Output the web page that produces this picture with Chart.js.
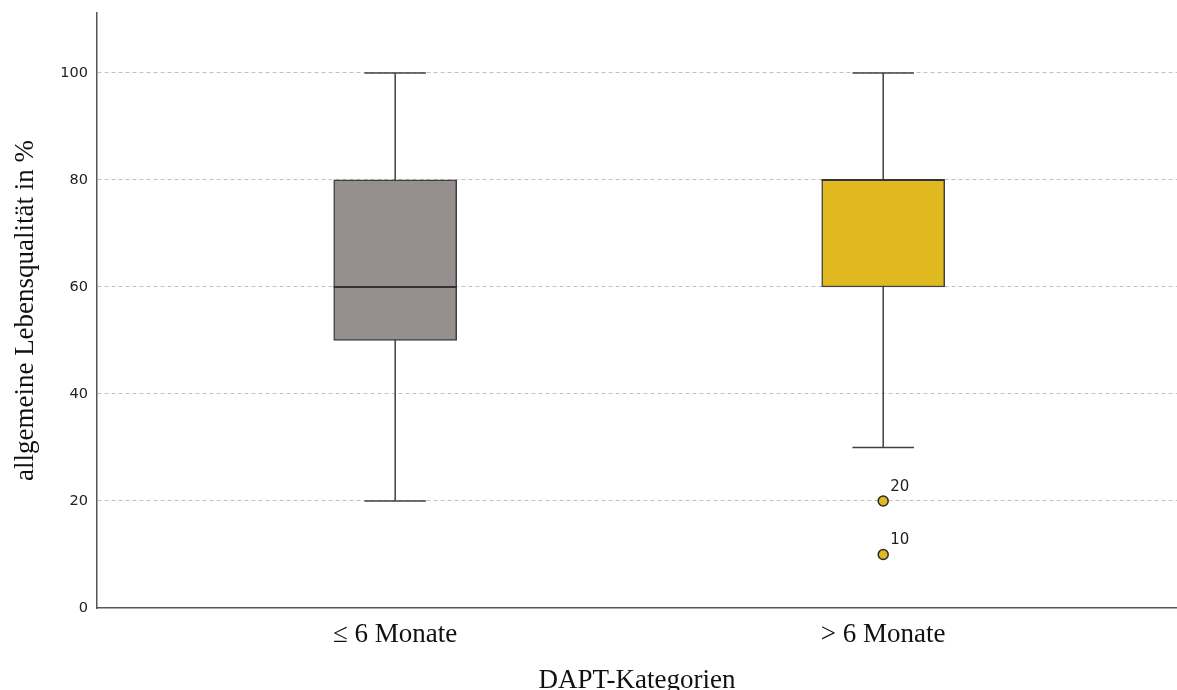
<!DOCTYPE html>
<html>
<head>
<meta charset="utf-8">
<script src="https://cdn.jsdelivr.net/npm/chart.js@4/dist/chart.umd.min.js"></script>
<style>
  html, body { margin: 0; padding: 0; background: #fff; overflow: hidden; }
  #wrap { width: 1177px; height: 690px; position: relative; }
</style>
</head>
<body>
<div id="wrap"><canvas id="boxChart"></canvas></div>
<script>
        const categories = ['\u2264 6 Monate', '> 6 Monate'];
        const whiskerLow = [20, 30];
        const q1 = [50, 60];
        const median = [60, 80];
        const q3 = [80, 80];
        const whiskerHigh = [100, 100];
        const boxColors = ['#958f8d', '#e0b920'];

        // Ausreißer (Gruppe, Wert, Fallnummer)
        const outlierGroup = [2, 2];
        const outlierValues = [20, 10];
        const outlierCase = ['20', '10'];

        const yTicks = [0, 20, 40, 60, 80, 100];

        const lineColor = '#404040';
        const serif = '"Liberation Serif", "Times New Roman", serif';

        const boxParts = {
            id: 'boxParts',
            beforeDatasetsDraw(chart) {
                const ctx = chart.ctx;
                const xs = chart.scales.x;
                const ys = chart.scales.y;
                const half = chart.getDatasetMeta(0).data[0].width / 2;
                ctx.save();
                ctx.strokeStyle = lineColor;
                ctx.lineWidth = 1.5;
                categories.forEach((c, i) => {
                    const cx = xs.getPixelForValue(i + 1);
                    ctx.beginPath();
                    ctx.moveTo(cx, ys.getPixelForValue(whiskerHigh[i]));
                    ctx.lineTo(cx, ys.getPixelForValue(whiskerLow[i]));
                    ctx.moveTo(cx - half / 2, ys.getPixelForValue(whiskerHigh[i]));
                    ctx.lineTo(cx + half / 2, ys.getPixelForValue(whiskerHigh[i]));
                    ctx.moveTo(cx - half / 2, ys.getPixelForValue(whiskerLow[i]));
                    ctx.lineTo(cx + half / 2, ys.getPixelForValue(whiskerLow[i]));
                    ctx.stroke();
                });
                ctx.restore();
            },
            afterDatasetsDraw(chart) {
                const ctx = chart.ctx;
                const xs = chart.scales.x;
                const ys = chart.scales.y;
                const half = chart.getDatasetMeta(0).data[0].width / 2;
                ctx.save();
                ctx.strokeStyle = '#333';
                ctx.lineWidth = 2;
                categories.forEach((c, i) => {
                    const cx = xs.getPixelForValue(i + 1);
                    const my = ys.getPixelForValue(median[i]);
                    ctx.beginPath();
                    ctx.moveTo(cx - half, my);
                    ctx.lineTo(cx + half, my);
                    ctx.stroke();
                });
                // Fallnummern an den Ausreißern
                ctx.fillStyle = '#222';
                ctx.font = '15px "DejaVu Sans", sans-serif';
                ctx.textAlign = 'left';
                ctx.textBaseline = 'alphabetic';
                chart.getDatasetMeta(1).data.forEach((pt, i) => {
                    ctx.fillText(outlierCase[i], pt.x + 7, pt.y - 10);
                });
                ctx.restore();
            }
        };

        new Chart(document.getElementById('boxChart'), {
            type: 'bar',
            data: {
                datasets: [{
                    type: 'bar',
                    data: categories.map((c, i) => ({ x: i + 1, y: [q1[i], q3[i]] })),
                    backgroundColor: boxColors,
                    borderColor: lineColor,
                    borderWidth: 1.5,
                    borderSkipped: false,
                    barThickness: 123
                }, {
                    type: 'scatter',
                    data: outlierValues.map((v, i) => ({ x: outlierGroup[i], y: v })),
                    pointRadius: 5,
                    pointBackgroundColor: boxColors[1],
                    pointBorderColor: '#2a2a2a',
                    pointBorderWidth: 1.5,
                    showLine: false
                }]
            },
            options: {
                responsive: true,
                maintainAspectRatio: false,
                animation: false,
                layout: { autoPadding: false, padding: { top: 13, right: 0, left: 0, bottom: 0 } },
                plugins: {
                    legend: { display: false },
                    tooltip: { enabled: false }
                },
                scales: {
                    x: {
                        type: 'linear',
                        offset: false,
                        min: 0.389,
                        max: 2.602,
                        afterBuildTicks: scale => {
                            scale.ticks = categories.map((c, i) => ({ value: i + 1 }));
                        },
                        afterFit: scale => {
                            scale.height = 82;
                            scale.paddingLeft = 0;
                            scale.paddingRight = 0;
                        },
                        ticks: {
                            callback: (v, i) => categories[i],
                            color: '#111',
                            font: { family: serif, size: 27 },
                            padding: 3,
                            maxRotation: 0
                        },
                        grid: { display: false },
                        border: { display: true, color: '#555', width: 1.5 },
                        title: {
                            display: true,
                            text: 'DAPT-Kategorien',
                            color: '#111',
                            font: { family: serif, size: 27 },
                            padding: { top: 0, bottom: -7 }
                        }
                    },
                    y: {
                        min: 0,
                        max: 111.2,
                        afterBuildTicks: scale => {
                            scale.ticks = yTicks.map(v => ({ value: v }));
                        },
                        afterFit: scale => {
                            scale.width = 97;
                            scale.paddingTop = 0;
                            scale.paddingBottom = 0;
                        },
                        ticks: {
                            color: '#222',
                            font: { family: '"DejaVu Sans", sans-serif', size: 14.5 },
                            padding: 9
                        },
                        grid: {
                            color: ctx => ctx.tick && ctx.tick.value === 0 ? 'rgba(0,0,0,0)' : '#c2c2c2',
                            lineWidth: 1,
                            drawTicks: false
                        },
                        border: { display: true, color: '#555', width: 1.5, dash: [4, 3] },
                        title: {
                            display: true,
                            text: 'allgemeine Lebensqualität in %',
                            color: '#111',
                            font: { family: serif, size: 27 },
                            padding: { top: 10, bottom: 8 }
                        }
                    }
                }
            },
            plugins: [boxParts]
        });
</script>
</body>
</html>
